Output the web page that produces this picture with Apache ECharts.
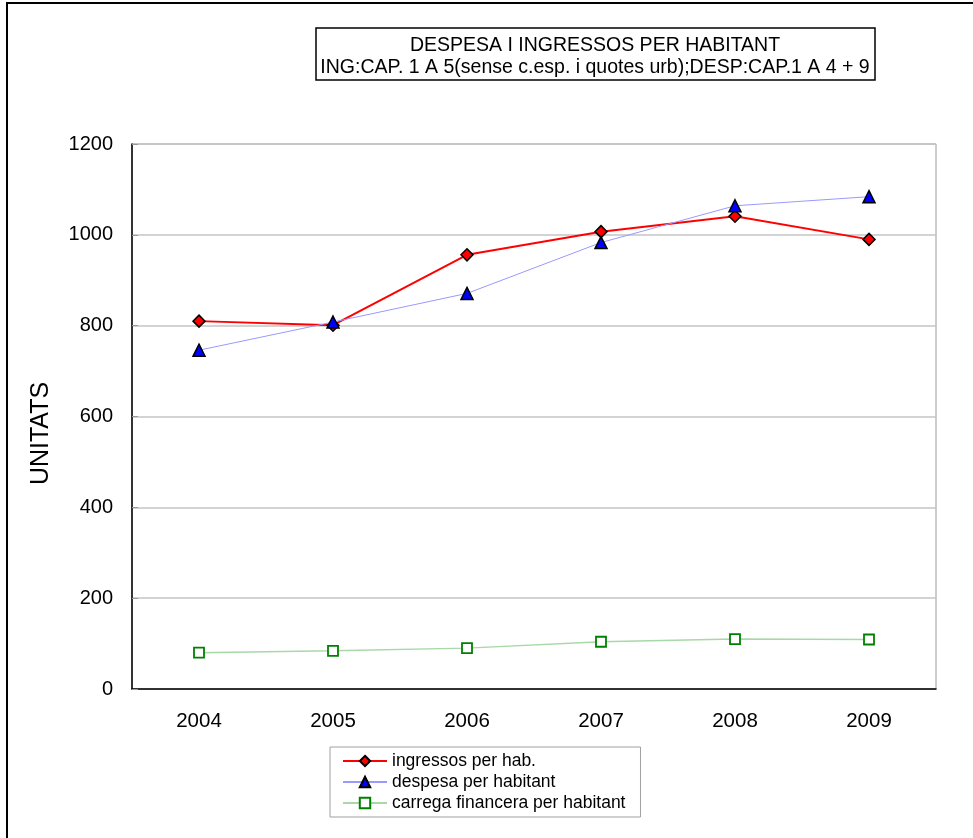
<!DOCTYPE html>
<html>
<head>
<meta charset="utf-8">
<script src="https://cdn.jsdelivr.net/npm/echarts@6/dist/echarts.min.js"></script>
<style>
  html, body { margin: 0; padding: 0; background: #fff; }
  #chart { width: 973px; height: 838px; }
</style>
</head>
<body>
<div id="chart"></div>
<script>
const years = ['2004', '2005', '2006', '2007', '2008', '2009'];
const ingressos = [810, 801, 956, 1007, 1041, 990];
const despesa = [746, 808, 871, 983, 1064, 1084];
const carrega = [80, 84, 90, 104, 110, 109];
const titleLines = ['DESPESA I INGRESSOS PER HABITANT', 'ING:CAP. 1 A 5(sense c.esp. i quotes urb);DESP:CAP.1 A 4 + 9'];

const font = '"Liberation Sans", Arial, sans-serif';
const chart = echarts.init(document.getElementById('chart'));

chart.setOption({
  animation: false,
  textStyle: { fontFamily: font, color: '#000' },
  graphic: [
    // outer frame of the chart
    { type: 'rect', shape: { x: 7, y: 3, width: 1000, height: 900 },
      style: { fill: 'none', stroke: '#000', lineWidth: 2 } },
    // title box
    { type: 'rect', shape: { x: 316, y: 28, width: 559, height: 52 },
      style: { fill: '#fff', stroke: '#000', lineWidth: 1.5 } },
    { type: 'text', x: 595, y: 35,
      style: { text: titleLines.join('\n'), fill: '#000', font: '19.5px ' + font,
        align: 'center', verticalAlign: 'top', lineHeight: 22 } }
  ],
  grid: {
    left: 132, top: 144, right: 37, bottom: 149,
    show: true, borderColor: '#9a9a9a', borderWidth: 1
  },
  legend: {
    orient: 'vertical',
    left: 330, top: 747,
    padding: [5, 15, 5, 12],
    itemGap: 3,
    itemWidth: 44,
    itemHeight: 13,
    borderColor: '#a0a0a0',
    borderWidth: 1,
    textStyle: { fontFamily: font, fontSize: 17.5, color: '#000' },
    data: ['ingressos per hab.', 'despesa per habitant', 'carrega financera per habitant']
  },
  xAxis: {
    type: 'category',
    data: years,
    boundaryGap: true,
    axisLine: { lineStyle: { color: '#000', width: 1.5 } },
    axisTick: { inside: true, length: 6, lineStyle: { color: '#999' } },
    axisLabel: { fontSize: 20.5, margin: 22, color: '#000', fontFamily: font }
  },
  yAxis: {
    type: 'value',
    min: 0, max: 1200, interval: 200,
    name: 'UNITATS',
    nameLocation: 'middle',
    nameGap: 78,
    nameTextStyle: { fontSize: 25, fontFamily: font, color: '#000', padding: [0, 34, 0, 0] },
    axisLine: { show: true, lineStyle: { color: '#000', width: 1.5 } },
    axisTick: { show: true, inside: true, length: 6, lineStyle: { color: '#999' } },
    axisLabel: { fontSize: 20, margin: 19, color: '#000', fontFamily: font, formatter: v => String(v) },
    splitLine: { lineStyle: { color: '#c4c4c4', width: 1.5 } }
  },
  series: [
    {
      name: 'ingressos per hab.',
      type: 'line',
      data: ingressos,
      symbol: 'diamond',
      symbolSize: 12,
      z: 3,
      lineStyle: { color: '#ff0000', width: 2 },
      itemStyle: { color: '#ff0000', borderColor: '#000', borderWidth: 1.5 }
    },
    {
      name: 'despesa per habitant',
      type: 'line',
      data: despesa,
      symbol: 'triangle',
      symbolSize: 12,
      z: 4,
      lineStyle: { color: '#9999ff', width: 1 },
      itemStyle: { color: '#0000ff', borderColor: '#000', borderWidth: 1.5 }
    },
    {
      name: 'carrega financera per habitant',
      type: 'line',
      data: carrega,
      symbol: 'rect',
      symbolSize: 10,
      z: 2,
      lineStyle: { color: '#a8d8a8', width: 1.5 },
      itemStyle: { color: '#ffffff', borderColor: '#008000', borderWidth: 1.8 }
    }
  ]
});
</script>
</body>
</html>
